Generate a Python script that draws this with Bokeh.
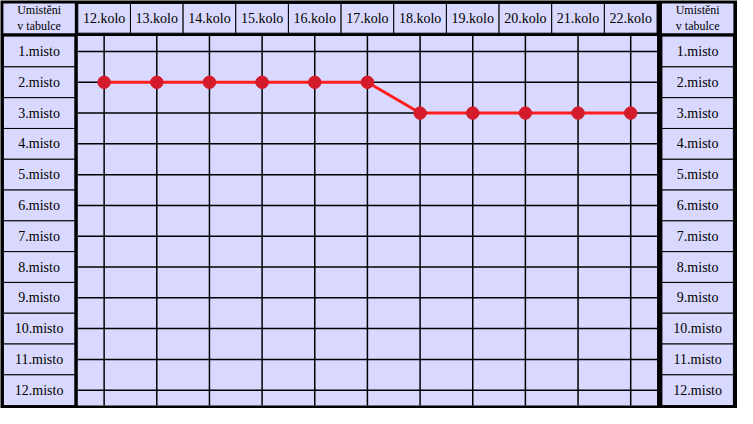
from bokeh.plotting import figure
from bokeh.models import Range1d, ColumnDataSource
from bokeh.core.properties import value
from bokeh.embed import file_html
from bokeh.resources import INLINE

# ---- data ----
rounds = ["12.kolo", "13.kolo", "14.kolo", "15.kolo", "16.kolo", "17.kolo",
          "18.kolo", "19.kolo", "20.kolo", "21.kolo", "22.kolo"]
positions = [2, 2, 2, 2, 2, 2, 3, 3, 3, 3, 3]
place_labels = ["1.misto", "2.misto", "3.misto", "4.misto", "5.misto", "6.misto",
                "7.misto", "8.misto", "9.misto", "10.misto", "11.misto", "12.misto"]
corner_label = "Umistěni\nv tabulce"

# ---- style ----
LAV = "#D9D9FF"
FONT = value("'Liberation Serif', serif")

n_r = len(rounds)
n_p = len(place_labels)
xs = list(range(n_r))
ys = list(range(1, n_p + 1))

# layout geometry in axis units (columns / rows)
LEFT_L, LEFT_R = -1.913, -0.556
RIGHT_L, RIGHT_R = n_r - 0.5 + 0.093, n_r - 0.5 + 1.45
HEAD_T, HEAD_B = -0.5625, 0.406

p = figure(width=737, height=408, output_backend="svg", toolbar_location=None,
           x_range=Range1d(-1.968, n_r - 0.5 + 1.528),
           y_range=Range1d(n_p + 0.594, -0.656),
           min_border=0, background_fill_color="black", border_fill_color="black")
p.axis.visible = False
p.grid.visible = False
p.outline_line_color = None

# plot area
p.quad(left=[-0.5], right=[n_r - 0.5], top=[0.5], bottom=[n_p + 0.5],
       fill_color=LAV, line_color=None)

# round header cells
p.quad(left=[x - 0.5 for x in xs], right=[x + 0.5 for x in xs],
       top=[HEAD_T] * n_r, bottom=[HEAD_B] * n_r,
       fill_color=LAV, line_color="black", line_width=1)

# corner header cells
p.quad(left=[LEFT_L, RIGHT_L], right=[LEFT_R, RIGHT_R],
       top=[HEAD_T] * 2, bottom=[HEAD_B] * 2,
       fill_color=LAV, line_color=None)

# place label cells
for L, R in [(LEFT_L, LEFT_R), (RIGHT_L, RIGHT_R)]:
    p.quad(left=[L] * n_p, right=[R] * n_p,
           top=[y - 0.5 for y in ys], bottom=[y + 0.5 for y in ys],
           fill_color=LAV, line_color="black", line_width=1)

# grid lines
p.segment(x0=xs, x1=xs, y0=[0.5] * n_r, y1=[n_p + 0.5] * n_r,
          line_color="black", line_width=1.5)
p.segment(x0=[-0.5] * n_p, x1=[n_r - 0.5] * n_p, y0=ys, y1=ys,
          line_color="black", line_width=1.5)

# series
src = ColumnDataSource(dict(x=xs, y=positions))
p.line("x", "y", source=src, line_color="#FF1E1E", line_width=3)
p.scatter("x", "y", source=src, size=12.5, fill_color="#D41B2B", line_color="#D41B2B")

# texts
hy = (HEAD_T + HEAD_B) / 2
p.text(x=xs, y=[hy] * n_r, text=rounds, text_font=FONT, text_font_size="14px",
       text_align="center", text_baseline="middle", text_color="black")
for cx in [(LEFT_L + LEFT_R) / 2, (RIGHT_L + RIGHT_R) / 2]:
    p.text(x=[cx] * n_p, y=ys, text=place_labels, text_font=FONT,
           text_font_size="14px", text_align="center", text_baseline="middle",
           text_color="black")
    p.text(x=[cx], y=[hy], text=[corner_label], text_font=FONT,
           text_font_size="12px", text_align="center", text_baseline="middle",
           text_color="black", text_line_height=1.15)

open("out.html", "w").write(file_html(p, INLINE))
